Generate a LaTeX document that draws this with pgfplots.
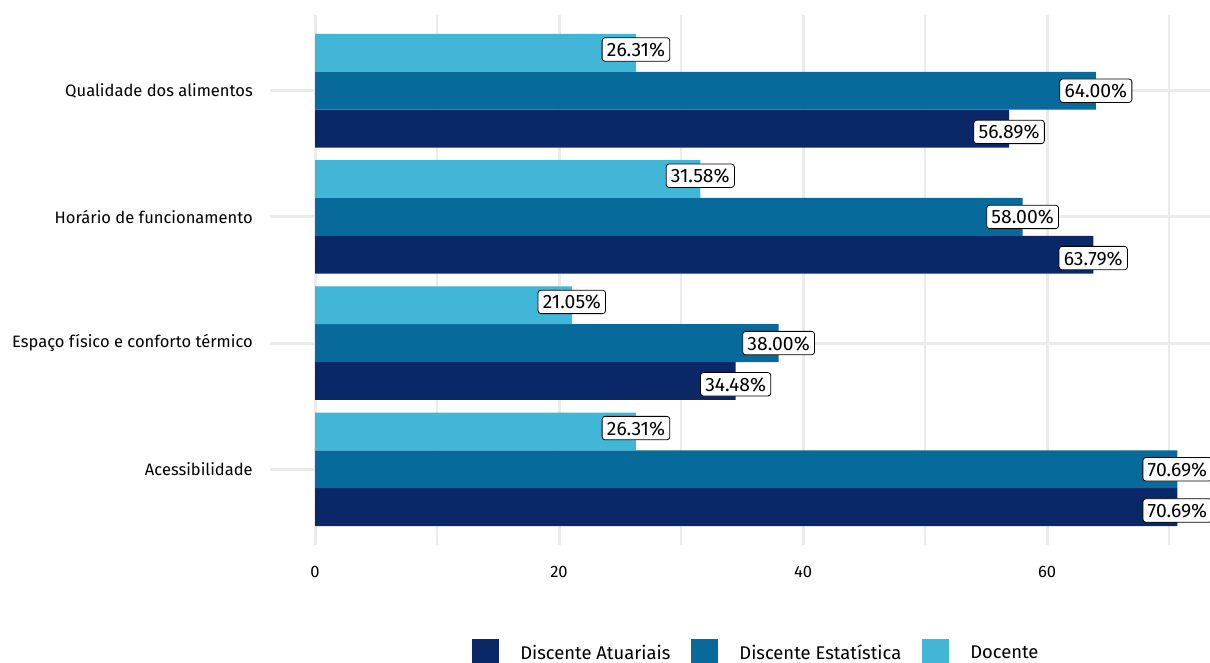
\documentclass[border=0pt]{standalone}
\usepackage{pgfplots}
\pgfplotsset{compat=1.18}
\usepackage{fontspec}
\setmainfont{Fira Sans}
\definecolor{cAtu}{HTML}{0A2868}
\definecolor{cEst}{HTML}{086A9A}
\definecolor{cDoc}{HTML}{41B6D6}
\definecolor{gridc}{HTML}{EBEBEB}
\newcommand{\tickfont}{\fontsize{12.4pt}{14pt}\selectfont}
\newcommand{\legfont}{\fontsize{13.8pt}{16pt}\selectfont}
\newcommand{\lblfont}{\fontsize{14.5pt}{17pt}\selectfont}
\begin{document}
\begin{tikzpicture}
\path[use as bounding box] (0pt,0pt) rectangle (907.5pt,496.5pt);
\begin{axis}[
  at={(202.5pt,87.75pt)}, anchor=south west,
  scale only axis, width=705pt, height=397.5pt,
  xmin=-3.689, xmax=73.36, ymin=0.4, ymax=4.6,
  clip=false,
  axis line style={draw=none},
  xbar, bar width=0.3,
  ytick={1,2,3,4},
  yticklabels={Acessibilidade, Espaço físico e conforto térmico, Horário de funcionamento, Qualidade dos alimentos},
  xtick={0,20,40,60},
  minor xtick={10,30,50,70},
  major tick length=0pt, minor tick length=0pt,
  xmajorgrids, xminorgrids, ymajorgrids,
  major grid style={gridc, line width=2.25pt},
  minor grid style={gridc, line width=1.5pt},
  /pgf/number format/assume math mode=true,
  ticklabel style={font=\tickfont, inner sep=0pt},
  yticklabel style={anchor=east, xshift=-12.75pt},
  xticklabel style={anchor=north, yshift=-15.8pt},
  point meta=x,
  nodes near coords={\pgfmathprintnumber[fixed,fixed zerofill,precision=2,assume math mode=true]{\pgfplotspointmeta}\%},
  every node near coord/.append style={anchor=center, font=\lblfont, fill=white, draw=black, line width=0.6pt, rounded corners=2.2pt, inner xsep=3.6pt, inner ysep=3.6pt, text height=10.4pt, text depth=0pt},
  legend columns=3,
  legend style={at={(0.2149,-0.2029)}, anchor=west, draw=none, fill=none, inner sep=0pt, font=\legfont,
    nodes={inner sep=0pt},
    /tikz/every odd column/.append style={column sep=15.75pt},
    /tikz/every even column/.append style={column sep=15.75pt}},
  legend image code/.code={\fill[#1] (0pt,-9.75pt) rectangle (20.25pt,10.5pt);},
]
\addplot[fill=cAtu, draw=none, bar shift=-0.3, every node near coord/.append style={yshift=-2.5pt}]
  coordinates {(70.69,1) (34.48,2) (63.79,3) (56.89,4)};
\addlegendentry{Discente Atuariais}
\addplot[fill=cEst, draw=none, bar shift=0]
  coordinates {(70.69,1) (38.00,2) (58.00,3) (64.00,4)};
\addlegendentry{Discente Estatística}
\addplot[fill=cDoc, draw=none, bar shift=0.3, every node near coord/.append style={yshift=2.5pt}]
  coordinates {(26.31,1) (21.05,2) (31.58,3) (26.31,4)};
\addlegendentry{Docente}
\end{axis}
\end{tikzpicture}
\end{document}
